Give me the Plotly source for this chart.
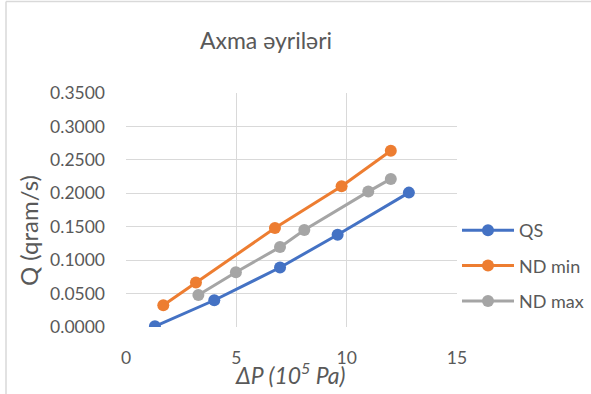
import plotly.graph_objects as go

# Pressure drop (10^5 Pa) and flow rate (g/s) for each series
qs_dp = [1.31, 4.0, 6.98, 9.59, 12.82]
qs_q = [0.0010, 0.0400, 0.0890, 0.1380, 0.2010]

ndmin_dp = [1.69, 3.17, 6.75, 9.77, 12.0]
ndmin_q = [0.0325, 0.0665, 0.1480, 0.2105, 0.2635]

ndmax_dp = [3.28, 4.98, 6.98, 8.08, 10.98, 12.0]
ndmax_q = [0.0480, 0.0820, 0.1195, 0.1450, 0.2025, 0.2215]

series_names = ["QS", "ND min", "ND max"]
series_colors = ["#4472C4", "#ED7D31", "#A5A5A5"]

x_ticks = [0, 5, 10, 15]
y_ticks = [0.0, 0.05, 0.10, 0.15, 0.20, 0.25, 0.30, 0.35]

FONT = "Lato, 'Open Sans', sans-serif"
TEXT = "#595959"
GRID = "#D9D9D9"

fig = go.Figure()
for name, color, xs, ys in zip(
    series_names,
    series_colors,
    [qs_dp, ndmin_dp, ndmax_dp],
    [qs_q, ndmin_q, ndmax_q],
):
    fig.add_trace(
        go.Scatter(
            x=xs,
            y=ys,
            name=name,
            legendgroup=name,
            mode="lines+markers",
            line=dict(color=color, width=3),
            marker=dict(color=color, size=12),
        )
    )

W, H = 591, 394
L, R, T, B = 126, 134, 93, 67
pw, ph = W - L - R, H - T - B


def px_x(px):
    """Horizontal pixel position -> paper coordinate."""
    return (px - L) / pw


def px_y(py):
    """Vertical pixel position (from top) -> paper coordinate."""
    return (H - B - py) / ph


fig.update_layout(
    width=W,
    height=H,
    margin=dict(l=L, r=R, t=T, b=B, autoexpand=False),
    paper_bgcolor="white",
    plot_bgcolor="white",
    font=dict(family=FONT, color=TEXT, size=17),
    title=dict(
        text="Axma əyriləri",
        x=px_x(266),
        xref="paper",
        xanchor="center",
        y=1 - 41 / H,
        yref="container",
        yanchor="middle",
        font=dict(size=23, color=TEXT, family=FONT),
    ),
    xaxis=dict(
        range=[0, 15],
        tickvals=x_ticks,
        ticktext=[str(v) for v in x_ticks],
        showgrid=True,
        gridcolor=GRID,
        gridwidth=1,
        zeroline=False,
        showline=False,
        ticks="",
        ticklabelstandoff=18,
        tickfont=dict(size=17.5, color=TEXT),
        fixedrange=True,
    ),
    yaxis=dict(
        range=[0, 0.35],
        tickvals=y_ticks,
        ticktext=[f"{v:.4f}" for v in y_ticks],
        showgrid=True,
        gridcolor=GRID,
        gridwidth=1,
        zeroline=False,
        showline=False,
        ticks="",
        ticklabelstandoff=20,
        tickfont=dict(size=17.5, color=TEXT),
        fixedrange=True,
    ),
    legend=dict(
        x=1.0,
        xanchor="left",
        y=px_y(212),
        yanchor="top",
        font=dict(size=18, color=TEXT),
        traceorder="grouped",
        tracegroupgap=9,
        itemwidth=52,
        bgcolor="rgba(0,0,0,0)",
        itemclick=False,
    ),
    annotations=[
        dict(
            text="<i>ΔP (10<sup>5</sup> Pa)</i>",
            xref="paper",
            yref="paper",
            x=px_x(290),
            y=px_y(373),
            xanchor="center",
            yanchor="middle",
            showarrow=False,
            font=dict(size=23, color=TEXT),
        ),
        dict(
            text="Q (qram/s)",
            xref="paper",
            yref="paper",
            x=px_x(28),
            y=px_y(231),
            xanchor="center",
            yanchor="middle",
            textangle=-90,
            showarrow=False,
            font=dict(size=24, color=TEXT),
        ),
    ],
    shapes=[
        # outer chart frame (left and top edges visible)
        dict(
            type="line",
            xref="paper",
            yref="paper",
            x0=px_x(6),
            x1=px_x(6),
            y0=-0.5,
            y1=px_y(1.5),
            line=dict(color=GRID, width=1.5),
        ),
        dict(
            type="line",
            xref="paper",
            yref="paper",
            x0=px_x(6),
            x1=1.6,
            y0=px_y(1.5),
            y1=px_y(1.5),
            line=dict(color=GRID, width=1.5),
        ),
    ],
)

fig.write_html("out.html", config={"displayModeBar": False})
